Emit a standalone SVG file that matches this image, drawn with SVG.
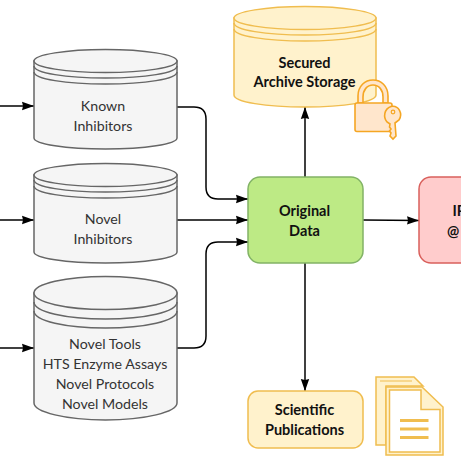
<svg xmlns="http://www.w3.org/2000/svg" width="461" height="461" viewBox="0 0 461 461">
<style>
text{font-family:"Lato","Open Sans","Liberation Sans",sans-serif;font-size:14.200px;text-anchor:middle}
.g{fill:#f5f5f5;stroke:#666;stroke-width:1.5}
.gl{fill:none;stroke:#666;stroke-width:1.5}
.gt{fill:#333}
.y{fill:#fff2cc;stroke:#f0bd4f;stroke-width:1.5}
.yl{fill:none;stroke:#f0bd4f;stroke-width:1.5}
.o{fill:#ffe6cc;stroke:#f5a623;stroke-width:1.6}
.b{font-weight:700;fill:#111;font-size:14.500px}
.c{fill:none;stroke:#000;stroke-width:1.5}
</style>
<defs><marker id="a" markerUnits="userSpaceOnUse" markerWidth="13" markerHeight="10" refX="12" refY="5" orient="auto"><path d="M0 .8L12 5L0 9.200L1 5Z" fill="#000"/></marker></defs>
<g id="connectors">
<path class="c" marker-end="url(#a)" d="M0 106H34"/>
<path class="c" marker-end="url(#a)" d="M0 220H34"/>
<path class="c" marker-end="url(#a)" d="M0 348H34"/>
<path class="c" marker-end="url(#a)" d="M177 107H194Q206 107 206 119V187Q206 199 218 199H248"/>
<path class="c" marker-end="url(#a)" d="M177 220H248"/>
<path class="c" marker-end="url(#a)" d="M177 348H194Q206 348 206 336V254Q206 242 218 242H248"/>
<path class="c" marker-end="url(#a)" d="M305 177V107"/>
<path class="c" marker-end="url(#a)" d="M305 263V391"/>
<path class="c" marker-end="url(#a)" d="M363 220L419 220.500"/>
</g>
<g id="known">
<path class="g" d="M34 61V138C34 144 66 149 105.500 149S177 144 177 138V61Z"/>
<ellipse class="g" cx="105.500" cy="61" rx="71.500" ry="11.500"/>
<path class="gl" d="M34 66C34 73 66 78 105.500 78S177 73 177 66M34 72C34 79 66 84 105.500 84S177 79 177 72"/>
<text class="gt" x="103" y="110.500">Known</text><text class="gt" x="103" y="130.500">Inhibitors</text>
</g>
<g id="novel">
<path class="g" d="M34 175V252C34 258 66 263 105.500 263S177 258 177 252V175Z"/>
<ellipse class="g" cx="105.500" cy="175" rx="71.500" ry="11.500"/>
<path class="gl" d="M34 180C34 187 66 192 105.500 192S177 187 177 180M34 186C34 193 66 198 105.500 198S177 193 177 186"/>
<text class="gt" x="103" y="223.500">Novel</text><text class="gt" x="103" y="243.500">Inhibitors</text>
</g>
<g id="tools">
<path class="g" d="M34 293V403C34 412 66 420 105.500 420S177 412 177 403V293Z"/>
<ellipse class="g" cx="105.500" cy="293" rx="71.500" ry="16.500"/>
<path class="gl" d="M34 302C34 312 66 319 105.500 319S177 312 177 302M34 311C34 321 66 328 105.500 328S177 321 177 311"/>
<text class="gt" x="105" y="348.500">Novel Tools</text><text class="gt" x="105" y="368.500">HTS Enzyme Assays</text><text class="gt" x="105" y="388.500">Novel Protocols</text><text class="gt" x="105" y="408.500">Novel Models</text>
</g>
<g id="archive">
<path class="y" d="M234 18V95C234 102 266 107 305 107S376 102 376 95V18Z"/>
<ellipse class="y" cx="305" cy="18" rx="71" ry="11.500"/>
<path class="yl" d="M234 23C234 30 266 35 305 35S376 30 376 23M234 29C234 36 266 41 305 41S376 36 376 29"/>
<text class="b" x="304.500" y="68">Secured</text><text class="b" x="304.500" y="87">Archive Storage</text>
</g>
<g id="lock">
<path class="o" fill-rule="evenodd" d="M358 103V96C358 86 365 80 373 80S388 86 388 96V103H383V97C383 90 379 85 373 85S363 90 363 97V103Z"/>
<rect class="o" x="355" y="103" width="37" height="28.500" rx="2"/>
<path class="o" d="M387 122C383 117 384 109 391 106.500C399 105 403 114 399 120L395 123L396 136L393 139L390 136L391 133L389.500 131L391 129L389.500 127L390 124Z"/>
<circle cx="393" cy="112" r="1.800" fill="none" stroke="#f5a623" stroke-width="1.200"/>
</g>
<g id="original">
<rect x="248" y="177" width="115" height="86" rx="12" fill="#bdea85" stroke="#82b366" stroke-width="1.500"/>
<text class="b" x="304.500" y="216">Original</text><text class="b" x="304.500" y="236">Data</text>
</g>
<g id="ip">
<rect x="419" y="177" width="60" height="86" rx="12" fill="#ffcccc" stroke="#d9605c" stroke-width="1.500"/>
<text class="b" style="text-anchor:start" x="452.500" y="216">IP</text><text class="b" style="text-anchor:start" x="447" y="236">@</text>
</g>
<g id="publications">
<rect x="248" y="391" width="115" height="57" rx="10" fill="#fff2cc" stroke="#f0bd4f" stroke-width="1.500"/>
<text class="b" x="304.500" y="415">Scientific</text><text class="b" x="304.500" y="435">Publications</text>
</g>
<g id="documents">
<path class="y" d="M376 377H414L423 386H386V445H376Z"/>
<path d="M380 381H412" fill="none" stroke="#f0bd4f" stroke-width="1"/>
<path d="M386 387H422L443 407V455H386Z" fill="#fff2cc" stroke="#f0bd4f" stroke-width="1.500"/>
<path d="M389.500 390H421V409.500H440V452H389.500Z" fill="#fff" stroke="#f0bd4f" stroke-width="1.500"/>
<path d="M400 420.500H428.500M400 429H428.500M400 437.500H428.500" fill="none" stroke="#f0bd4f" stroke-width="3"/>
</g>
</svg>
